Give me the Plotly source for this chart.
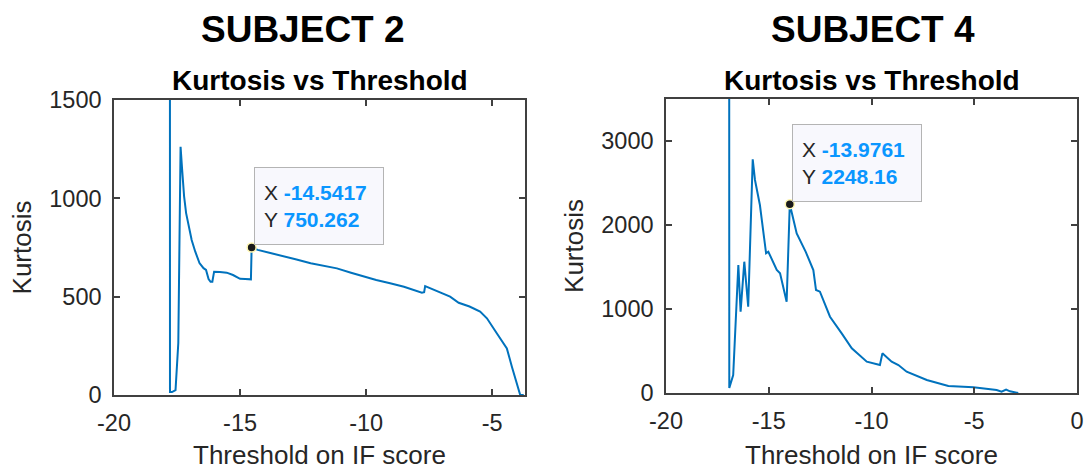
import plotly.graph_objects as go

# ---------------- data ----------------
s2_x = [-17.79, -17.78, -17.70, -17.56, -17.45, -17.36, -17.30, -17.22, -17.14, -17.02,
        -16.92, -16.78, -16.61, -16.45, -16.35, -16.25, -16.17, -16.10, -16.03, -15.80,
        -15.53, -15.28, -15.00, -14.80, -14.57, -14.5417, -14.30, -13.80, -13.28, -12.80,
        -12.20, -11.70, -11.16, -10.60, -10.10, -9.60, -9.05, -8.50, -7.79, -7.70,
        -7.66, -7.20, -6.67, -6.33, -5.90, -5.48, -5.21, -4.82, -4.42, -4.22,
        -4.05, -3.89, -3.75]
s2_y = [9000, 15, 15, 25, 264, 1262, 1150, 1010, 925, 850,
        788, 730, 671, 645, 636, 590, 576, 576, 627, 625,
        622, 610, 591, 590, 588, 750.262, 738, 722, 707, 690,
        670, 657, 644, 622, 602, 585, 568, 550, 520, 523,
        554, 527, 500, 469, 450, 424, 390, 314, 237, 144,
        70, 0, 0]
s2_tip = (-14.5417, 750.262)

s4_x = [-16.93, -16.92, -16.73, -16.48, -16.37, -16.19, -16.00, -15.78, -15.67, -15.43,
        -15.13, -15.02, -14.61, -14.45, -14.13, -13.9761, -13.64, -13.20, -12.83, -12.70,
        -12.51, -12.02, -11.45, -10.96, -10.23, -9.59, -9.47, -9.02, -8.69, -8.29,
        -7.31, -6.26, -5.04, -4.40, -3.91, -3.67, -3.45, -3.26, -2.86]
s4_y = [9000, 60, 214, 1524, 968, 1563, 1027, 2782, 2536, 2238,
        1663, 1682, 1464, 1425, 1087, 2248.16, 1900, 1680, 1464, 1226,
        1206, 908, 710, 532, 373, 333, 472, 373, 333, 254,
        155, 83, 68, 50, 36, 15, 40, 20, 0]
s4_tip = (-13.9761, 2248.16)

subjects = ["SUBJECT 2", "SUBJECT 4"]
subtitle = "Kurtosis vs Threshold"
xlabel = "Threshold on IF score"
ylabel = "Kurtosis"
s2_xticks = [-20, -15, -10, -5]
s2_yticks = [0, 500, 1000, 1500]
s4_xticks = [-20, -15, -10, -5, 0]
s4_yticks = [0, 1000, 2000, 3000]

# ---------------- style ----------------
W, H = 1085, 470
FONT = "Liberation Sans, Arial, sans-serif"
LINE = "#0072BD"
TXT = "#262626"
AX = "#404040"
TIPBLUE = "#0A96FF"

def px_x(p):
    return p / W

def px_y(p):
    return 1 - p / H

fig = go.Figure()

fig.add_trace(go.Scatter(x=s2_x, y=s2_y, mode="lines", line=dict(color=LINE, width=2),
                         xaxis="x", yaxis="y", showlegend=False, hoverinfo="skip"))
fig.add_trace(go.Scatter(x=s4_x, y=s4_y, mode="lines", line=dict(color=LINE, width=2),
                         xaxis="x2", yaxis="y2", showlegend=False, hoverinfo="skip"))
for tip, xa, ya in [(s2_tip, "x", "y"), (s4_tip, "x2", "y2")]:
    fig.add_trace(go.Scatter(x=[tip[0]], y=[tip[1]], mode="markers",
                             marker=dict(size=9, color="#1a1a1a",
                                         line=dict(color="#fff7b0", width=1.5)),
                             xaxis=xa, yaxis=ya, showlegend=False, hoverinfo="skip",
                             cliponaxis=False))

def axis(domain, rng, ticks, anchor, title=None):
    d = dict(domain=domain, range=rng, tickvals=ticks, ticktext=[str(t) for t in ticks],
             showgrid=False, zeroline=False, showline=True, linecolor=AX, linewidth=1.5,
             mirror="ticks", ticks="inside", ticklen=6, tickwidth=1.5, tickcolor=AX,
             tickfont=dict(family=FONT, size=23.5, color=TXT), anchor=anchor,
             ticklabelstandoff=6, automargin=False)
    if title:
        d["title"] = dict(text=title, font=dict(family=FONT, size=26, color=TXT), standoff=10)
    return d

fig.update_layout(
    width=W, height=H, margin=dict(l=0, r=0, t=0, b=0, autoexpand=False),
    paper_bgcolor="white", plot_bgcolor="white",
    xaxis=axis([px_x(114), px_x(525)], [-20, -3.7], s2_xticks, "y"),
    yaxis=axis([px_y(395), px_y(100)], [0, 1500], s2_yticks, "x", ylabel),
    xaxis2=axis([px_x(666), px_x(1077)], [-20, 0], s4_xticks, "y2"),
    yaxis2=axis([px_y(393), px_y(99)], [0, 3500], s4_yticks, "x2", ylabel),
)

ann = []
for name, cx in zip(subjects, [303, 873]):
    ann.append(dict(text=f"<b>{name}</b>", x=px_x(cx), y=px_y(29), xref="paper", yref="paper",
                    xanchor="center", yanchor="middle", showarrow=False,
                    font=dict(family=FONT, size=37, color="black")))
for cx in [319.5, 871.5]:
    ann.append(dict(text=f"<b>{subtitle}</b>", x=px_x(cx), y=px_y(80.5), xref="paper", yref="paper",
                    xanchor="center", yanchor="middle", showarrow=False,
                    font=dict(family=FONT, size=28, color="black")))
    ann.append(dict(text=xlabel, x=px_x(cx), y=px_y(455), xref="paper", yref="paper",
                    xanchor="center", yanchor="middle", showarrow=False,
                    font=dict(family=FONT, size=26, color=TXT)))

def tip_text(tx, ty):
    return (f"X <span style='color:{TIPBLUE}'><b>{tx:g}</b></span><br>"
            f"Y <span style='color:{TIPBLUE}'><b>{ty:g}</b></span>")

for tip, xa, ya in [(s2_tip, "x", "y"), (s4_tip, "x2", "y2")]:
    ann.append(dict(text=tip_text(*tip), x=tip[0], y=tip[1], xref=xa, yref=ya,
                    xanchor="left", yanchor="bottom", showarrow=False, align="left",
                    width=110, height=58, valign="middle",
                    xshift=2, yshift=2, bgcolor="#f8f8fd", bordercolor="#b4b4b4",
                    borderwidth=1, borderpad=9,
                    font=dict(family=FONT, size=21, color=TXT)))

fig.update_layout(annotations=ann)
fig.write_html("out.html")
